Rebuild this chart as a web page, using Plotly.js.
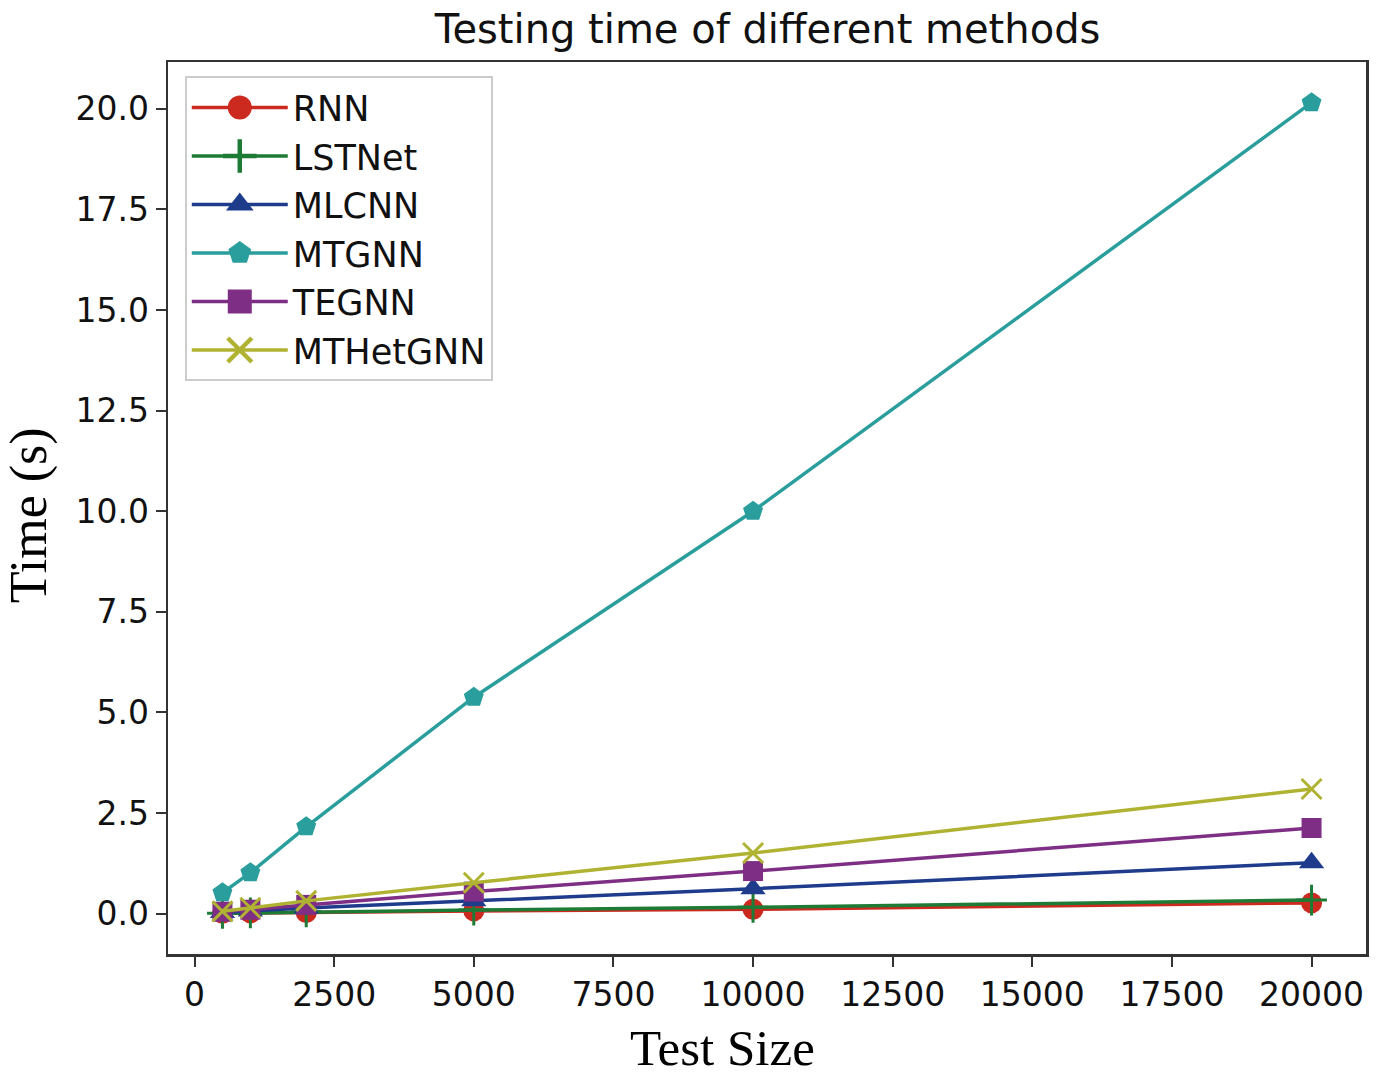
<!DOCTYPE html>
<html>
<head>
<meta charset="utf-8">
<script src="https://cdn.plot.ly/plotly-3.0.1.min.js"></script>
<style>
  html, body { margin: 0; padding: 0; background: #fff; }
  #chart { width: 1383px; height: 1081px; }
</style>
</head>
<body>
<div id="chart"></div>
<script>
// Test sizes on the x axis
const testSizes = [500, 1000, 2000, 5000, 10000, 20000];

// Testing time (s) per method
const rnn      = [0.01, 0.02, 0.03, 0.07, 0.11, 0.27];
const lstnet   = [0.01, 0.02, 0.05, 0.09, 0.16, 0.34];
const mlcnn    = [0.03, 0.07, 0.14, 0.32, 0.62, 1.27];
const mtgnn    = [0.52, 1.02, 2.16, 5.38, 10.0, 20.15];
const tegnn    = [0.05, 0.10, 0.22, 0.55, 1.06, 2.13];
const mthetgnn = [0.06, 0.15, 0.32, 0.77, 1.51, 3.10];

const xTicks = [0, 2500, 5000, 7500, 10000, 12500, 15000, 17500, 20000];
const yTicks = [0, 2.5, 5, 7.5, 10, 12.5, 15, 17.5, 20];

function series(name, y, color, symbol, size, open) {
    const marker = { symbol: symbol, size: size, color: color };
    if (open) marker.line = { color: color, width: 3 };
    return {
        x: testSizes, y: y, name: name,
        type: 'scatter', mode: 'lines+markers',
        line: { color: color, width: 3.5 },
        marker: marker
    };
}

const data = [
    series('RNN', rnn, '#cc2a1e', 'circle', 21, false),
    series('LSTNet', lstnet, '#1e7b36', 'cross-thin', 22, true),
    series('MLCNN', mlcnn, '#1f3c8c', 'triangle-up', 22, false),
    series('MTGNN', mtgnn, '#2a9e9c', 'pentagon', 21, false),
    series('TEGNN', tegnn, '#7e2e84', 'square', 20, false),
    series('MTHetGNN', mthetgnn, '#b0b332', 'x-thin', 20, true)
];

const tickFont = { family: 'DejaVu Sans', size: 33, color: '#111' };
const serif = { family: 'Liberation Serif', color: '#000' };

const layout = {
    width: 1383, height: 1081,
    paper_bgcolor: '#fff',
    plot_bgcolor: '#fff',
    margin: { l: 168, r: 17, t: 62, b: 127 },
    title: {
        text: 'Testing time of different methods',
        font: { family: 'DejaVu Sans', size: 40, color: '#111' },
        x: 0.555, xanchor: 'center', y: 0.973, yanchor: 'middle'
    },
    xaxis: {
        range: [-475, 20975],
        tickvals: xTicks,
        ticktext: xTicks.map(String),
        ticks: 'outside', ticklen: 10, tickwidth: 2, tickcolor: '#333',
        showgrid: false, zeroline: false,
        showline: true, linecolor: '#333', linewidth: 2.5, mirror: true,
        tickfont: tickFont
    },
    yaxis: {
        range: [-1.0, 21.16],
        tickvals: yTicks,
        ticktext: yTicks.map(v => v.toFixed(1)),
        ticks: 'outside', ticklen: 10, tickwidth: 2, tickcolor: '#333',
        showgrid: false, zeroline: false,
        showline: true, linecolor: '#333', linewidth: 2.5, mirror: true,
        tickfont: tickFont
    },
    annotations: [
        { text: 'Test Size', xref: 'paper', yref: 'paper', x: 0.463, y: -0.105,
          xanchor: 'center', yanchor: 'middle', showarrow: false,
          font: Object.assign({ size: 51 }, serif) },
        { text: 'Time (s)', xref: 'paper', yref: 'paper', x: -0.116, y: 0.492,
          xanchor: 'center', yanchor: 'middle', showarrow: false, textangle: -90,
          font: Object.assign({ size: 52 }, serif) }
    ],
    legend: {
        x: 0.014, y: 0.984, xanchor: 'left', yanchor: 'top',
        bgcolor: 'rgba(255,255,255,0.9)',
        bordercolor: '#ccc', borderwidth: 2,
        font: { family: 'DejaVu Sans', size: 35, color: '#111' },
        itemwidth: 96,
        tracegroupgap: 0
    },
    showlegend: true
};

Plotly.newPlot('chart', data, layout, { displayModeBar: false, staticPlot: true }).then(gd => {
    // legend markers are capped small; scale them up to match the figure
    gd.querySelectorAll('.legend .legendpoints path.scatterpts').forEach(p => {
        const t = p.getAttribute('transform') || '';
        p.setAttribute('transform', t + ' scale(1.5)');
    });
});
</script>
</body>
</html>
